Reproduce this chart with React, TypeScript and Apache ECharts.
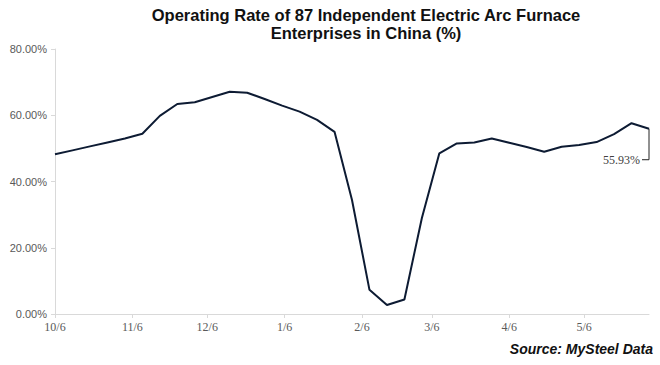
import React, { useEffect, useRef } from "react";
import * as echarts from "echarts";

const titleLines = [
  "Operating Rate of 87 Independent Electric Arc Furnace",
  "Enterprises in China (%)",
];
const sourceText = "Source: MySteel Data";

// weekly observation dates (2022-10-06 .. 2023-06-01)
const weekDates = [
  "2022-10-06", "2022-10-13", "2022-10-20", "2022-10-27", "2022-11-03",
  "2022-11-10", "2022-11-17", "2022-11-24", "2022-12-01", "2022-12-08",
  "2022-12-15", "2022-12-22", "2022-12-29", "2023-01-05", "2023-01-12",
  "2023-01-19", "2023-01-26", "2023-02-02", "2023-02-09", "2023-02-16",
  "2023-02-23", "2023-03-02", "2023-03-09", "2023-03-16", "2023-03-23",
  "2023-03-30", "2023-04-06", "2023-04-13", "2023-04-20", "2023-04-27",
  "2023-05-04", "2023-05-11", "2023-05-18", "2023-05-25", "2023-06-01",
];
const rates = [
  48.2, 49.4, 50.6, 51.8, 53.0,
  54.4, 59.8, 63.4, 63.9, 65.5,
  67.1, 66.8, 64.9, 62.9, 61.1,
  58.6, 55.0, 34.4, 7.3, 2.7,
  4.4, 29.0, 48.5, 51.5, 51.8,
  53.0, 51.7, 50.4, 49.0, 50.5,
  51.0, 51.9, 54.3, 57.6, 55.93,
];
const xTickLabels = ["10/6", "11/6", "12/6", "1/6", "2/6", "3/6", "4/6", "5/6"];
const yTicks = [0, 20, 40, 60, 80];

function fmt(d: Date) {
  return `${d.getUTCMonth() + 1}/${d.getUTCDate()}`;
}

function buildDays() {
  const start = new Date(weekDates[0] + "T00:00:00Z").getTime();
  const end = new Date(weekDates[weekDates.length - 1] + "T00:00:00Z").getTime();
  const days: string[] = [];
  for (let t = start; t <= end; t += 86400000) days.push(fmt(new Date(t)));
  return days;
}

export default function App() {
  const ref = useRef<HTMLDivElement>(null);
  useEffect(() => {
    if (!ref.current) return;
    const chart = echarts.init(ref.current, undefined, { renderer: "svg" });
    const days = buildDays();
    const weekLabels = weekDates.map((s) => fmt(new Date(s + "T00:00:00Z")));
    const values: (number | null)[] = days.map(() => null);
    weekLabels.forEach((l, i) => {
      const idx = days.indexOf(l);
      if (idx >= 0) values[idx] = rates[i];
    });
    const isTick = (i: number) => xTickLabels.indexOf(days[i]) >= 0;

    chart.setOption({
      animation: false,
      backgroundColor: "#ffffff",
      grid: { left: 55, right: 11, top: 49, bottom: 51 },
      xAxis: {
        type: "category",
        data: days,
        boundaryGap: false,
        axisLine: { lineStyle: { color: "#d9d9d9", width: 1 } },
        axisTick: {
          show: true,
          length: 4,
          interval: (i: number) => isTick(i),
          lineStyle: { color: "#d9d9d9" },
        },
        axisLabel: {
          interval: (i: number) => isTick(i),
          color: "#595959",
          fontFamily: "Liberation Serif",
          fontSize: 12,
          margin: 7,
        },
        splitLine: { show: false },
      },
      yAxis: {
        type: "value",
        min: yTicks[0],
        max: yTicks[yTicks.length - 1],
        interval: 20,
        axisLine: { show: true, lineStyle: { color: "#d9d9d9", width: 1 } },
        axisTick: { show: true, length: 4, lineStyle: { color: "#d9d9d9" } },
        axisLabel: {
          color: "#595959",
          fontFamily: "Liberation Sans",
          fontSize: 11,
          margin: 8,
          formatter: (v: number) => v.toFixed(2) + "%",
        },
        splitLine: { show: false },
      },
      series: [
        {
          type: "line",
          data: values,
          connectNulls: true,
          showSymbol: false,
          lineStyle: { color: "#0d1b33", width: 2 },
        },
      ],
    });

    const lastIdx = days.length - 1;
    const lastVal = rates[rates.length - 1];
    const p = chart.convertToPixel({ seriesIndex: 0 }, [lastIdx, lastVal]) as number[];
    const ly = p[1] + 31;

    chart.setOption({
      graphic: [
        {
          type: "text",
          x: 366,
          y: 6,
          style: {
            text: titleLines.join("\n"),
            font: 'bold 16.5px "Liberation Sans", Arial, sans-serif',
            fill: "#111111",
            align: "center",
            verticalAlign: "top",
            lineHeight: 18,
          },
        },
        {
          type: "polyline",
          shape: { points: [[p[0], p[1]], [p[0], ly], [p[0] - 7, ly]] },
          style: { stroke: "#222222", lineWidth: 1, fill: "none" },
        },
        {
          type: "text",
          x: p[0] - 9,
          y: ly,
          style: {
            text: lastVal.toFixed(2) + "%",
            font: '12px "Liberation Serif", serif',
            fill: "#404040",
            align: "right",
            verticalAlign: "middle",
          },
        },
        {
          type: "text",
          x: 653,
          y: 349,
          style: {
            text: sourceText,
            font: 'italic bold 14px "Liberation Sans", Arial, sans-serif',
            fill: "#111111",
            align: "right",
            verticalAlign: "middle",
          },
        },
      ],
    });
    return () => chart.dispose();
  }, []);
  return (
    <div
      ref={ref}
      style={{ position: "absolute", left: 0, top: 0, width: 660, height: 365, background: "#fff" }}
    />
  );
}
